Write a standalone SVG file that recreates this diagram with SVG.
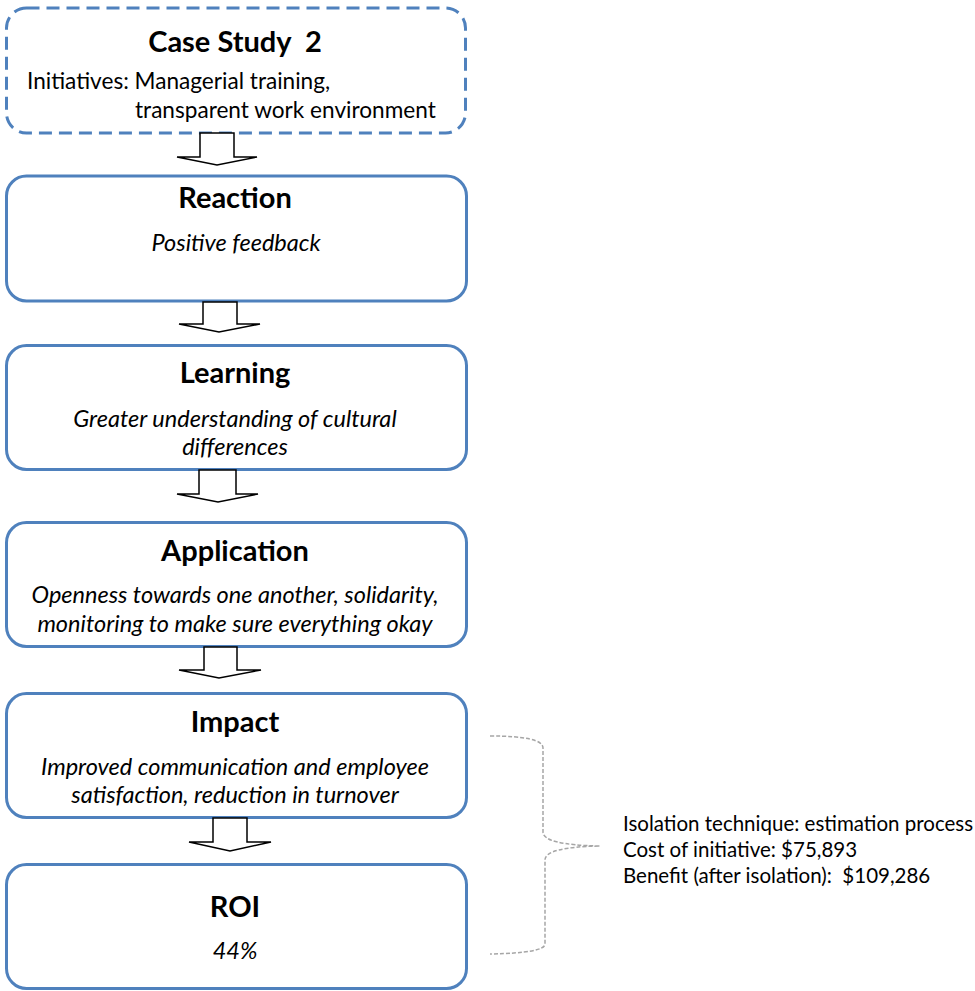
<svg xmlns="http://www.w3.org/2000/svg" width="975" height="991" viewBox="0 0 975 991">
  <style>
    text { white-space: pre; }
    .box { fill: #ffffff; stroke: #4f81bd; stroke-width: 3; }
    .dashed { stroke-dasharray: 13 7; }
    .title { font-family: Lato, "Open Sans", sans-serif; font-weight: bold; font-size: 29px; fill: #000; text-anchor: middle; }
    .body { font-family: Lato, "Open Sans", sans-serif; font-style: italic; font-size: 23.5px; fill: #000; text-anchor: middle; }
    .plain { font-family: Lato, "Open Sans", sans-serif; font-size: 22.6px; fill: #000; }
    .note { font-family: Lato, "Open Sans", sans-serif; font-size: 20.5px; fill: #000; }
    .arrow { fill: #ffffff; stroke: #000; stroke-width: 1.5; stroke-linejoin: miter; }
    .brace { fill: none; stroke: #a6a6a6; stroke-width: 1.5; stroke-dasharray: 4 2; }
  </style>

  <!-- Case study header -->
  <g id="case-study">
    <rect class="box dashed" x="6.5" y="8" width="459" height="125" rx="20" ry="20"/>
    <text class="title" x="235" y="52" xml:space="preserve">Case Study  2</text>
    <text class="plain" x="27" y="89">Initiatives: Managerial training,</text>
    <text class="plain" x="135" y="118">transparent work environment</text>
  </g>

  <g id="reaction">
    <rect class="box" x="6.5" y="176" width="460" height="125" rx="20" ry="20"/>
    <text class="title" x="235" y="208">Reaction</text>
    <text class="body" x="236" y="251">Positive feedback</text>
  </g>

  <g id="learning">
    <rect class="box" x="6.5" y="345.5" width="460" height="124" rx="20" ry="20"/>
    <text class="title" x="235" y="383">Learning</text>
    <text class="body" x="235" y="427">Greater understanding of cultural</text>
    <text class="body" x="235" y="455">differences</text>
  </g>

  <g id="application">
    <rect class="box" x="6.5" y="522.5" width="460" height="124" rx="20" ry="20"/>
    <text class="title" x="235" y="561">Application</text>
    <text class="body" x="235" y="603">Openness towards one another, solidarity,</text>
    <text class="body" x="235" y="632">monitoring to make sure everything okay</text>
  </g>

  <g id="impact">
    <rect class="box" x="6.5" y="693.5" width="460" height="124" rx="20" ry="20"/>
    <text class="title" x="235" y="732">Impact</text>
    <text class="body" x="235" y="775">Improved communication and employee</text>
    <text class="body" x="235" y="803">satisfaction, reduction in turnover</text>
  </g>

  <g id="roi">
    <rect class="box" x="6.5" y="864.5" width="460" height="124" rx="20" ry="20"/>
    <text class="title" x="235" y="917">ROI</text>
    <text class="body" x="235" y="959">44%</text>
  </g>

  <!-- Block arrows between stages and the summary brace -->
  <g id="connectors">
    <polygon class="arrow" points="200,133 234,133 234,157 257,157 217,165 177,157 200,157"/>
    <polygon class="arrow" points="203,302 237,302 237,324 260,324 219,332 179,324 203,324"/>
    <polygon class="arrow" points="199,470 236,470 236,494 258,494 218,502 177,494 199,494"/>
    <polygon class="arrow" points="204,647 237,647 237,670 261,670 219,678 179,670 204,670"/>
    <polygon class="arrow" points="213,818 247,818 247,842 271,842 230,851 189,842 213,842"/>
    <path class="brace" d="M490,736 Q543,736 543,748 L543,832 Q543,845 600,846 Q545,847 545,860 L545,944 Q545,953 490,954"/>
  </g>

  <g id="summary">
    <text class="note" x="623" y="831">Isolation technique: estimation process</text>
    <text class="note" x="623" y="857">Cost of initiative: $75,893</text>
    <text class="note" x="623" y="883" xml:space="preserve">Benefit (after isolation):  $109,286</text>
  </g>
</svg>
